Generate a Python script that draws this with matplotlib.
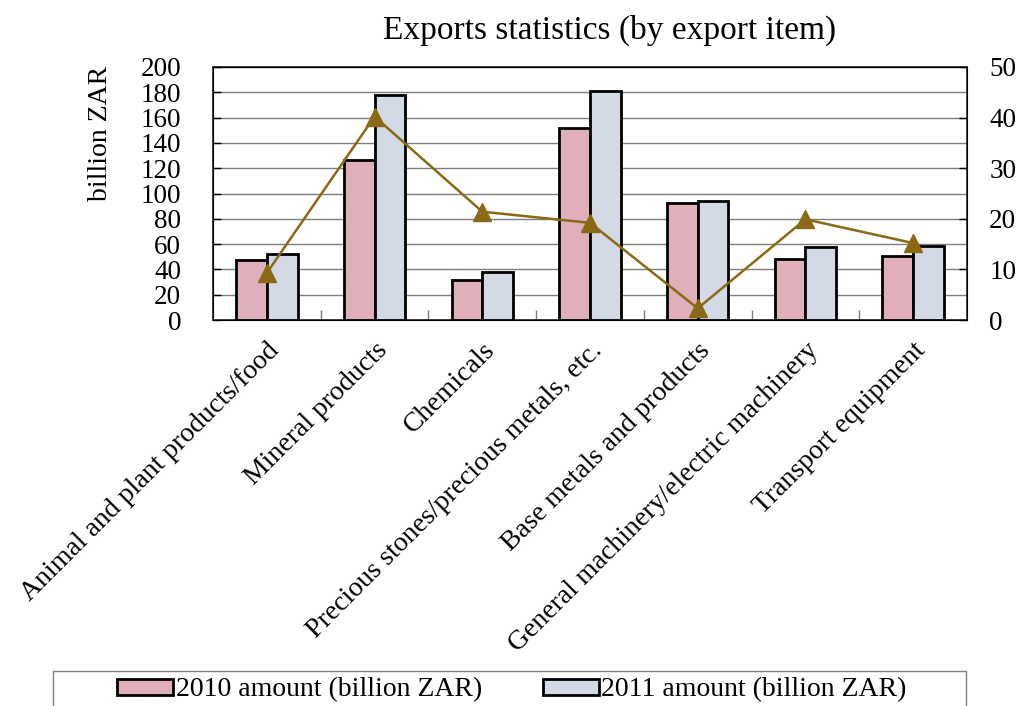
import numpy as np
import matplotlib
matplotlib.use('Agg')
import matplotlib.pyplot as plt
from matplotlib.patches import Rectangle

plt.rcParams['font.family'] = ['Liberation Serif', 'DejaVu Serif']

items = ['Animal and plant products/food', 'Mineral products', 'Chemicals',
         'Precious stones/precious metals, etc.', 'Base metals and products',
         'General machinery/electric machinery', 'Transport equipment']
amount_2010 = [47.4, 126.5, 31.4, 152.0, 92.2, 48.0, 50.6]
amount_2011 = [52.2, 177.9, 38.2, 181.3, 94.3, 57.5, 58.5]
growth_pct = [9.3, 40.2, 21.4, 19.2, 2.3, 19.9, 15.2]

c2010 = '#e1afb9'
c2011 = '#d3dae6'
cline = '#8b6914'

fig = plt.figure(figsize=(10.21, 7.06), dpi=100)
ax = fig.add_axes([213/1021, 1-320/706, 754/1021, 253/706])

x = np.arange(len(items))
w = 0.285
ax.bar(x - w/2, amount_2010, w, color=c2010, edgecolor='black', linewidth=2.0,
       label='2010 amount (billion ZAR)', zorder=3)
ax.bar(x + w/2, amount_2011, w, color=c2011, edgecolor='black', linewidth=2.0,
       label='2011 amount (billion ZAR)', zorder=3)

ax.set_xlim(-0.5, len(items) - 0.5)
ax.set_ylim(0, 200)
ax.set_yticks(np.arange(0, 201, 20))
ax.yaxis.grid(True, color='#7f7f7f', linewidth=1.0, zorder=0)
ax.set_axisbelow(True)
ax.tick_params(axis='y', direction='in', length=6, width=1, labelsize=19.5, pad=23)
ax.set_xticks(x)
ax.set_xticklabels(items, rotation=45, ha='right', rotation_mode='anchor', fontsize=20)
ax.tick_params(axis='x', length=0, pad=13)
ax.set_xticks(np.arange(0.5, len(items) - 1, 1), minor=True)
ax.tick_params(axis='x', which='minor', direction='in', length=7, width=1, color='#7f7f7f')
for s in ax.spines.values():
    s.set_linewidth(1.2)
    s.set_color('#222222')

ax2 = ax.twinx()
ax2.plot(x, growth_pct, color=cline, linewidth=1.8, marker='^', markersize=13, zorder=5)
ax2.set_ylim(0, 50)
ax2.set_yticks(np.arange(0, 51, 10))
ax2.tick_params(axis='y', direction='in', length=6, width=1, labelsize=19.5, pad=16)

fig.text(610/1021, 1-30/706, 'Exports statistics (by export item)', ha='center', va='center', fontsize=24)
fig.text(100/1021, 1-133/706, 'billion ZAR', rotation=90, ha='center', va='center', fontsize=20)

# legend box runs off the bottom edge
fig.patches.append(Rectangle((53/1021, -0.05), 913/1021, 0.05 + 1-671/706, transform=fig.transFigure,
                             fill=False, edgecolor='#7f7f7f', linewidth=1))
h, l = ax.get_legend_handles_labels()
fig.legend(h, l, loc='center', bbox_to_anchor=(512/1021, 1-690/706), ncol=2, frameon=False,
           fontsize=20, handlelength=2.0, handleheight=0.5, handletextpad=0.1, columnspacing=2.2)

fig.savefig('out.png', dpi=100)
